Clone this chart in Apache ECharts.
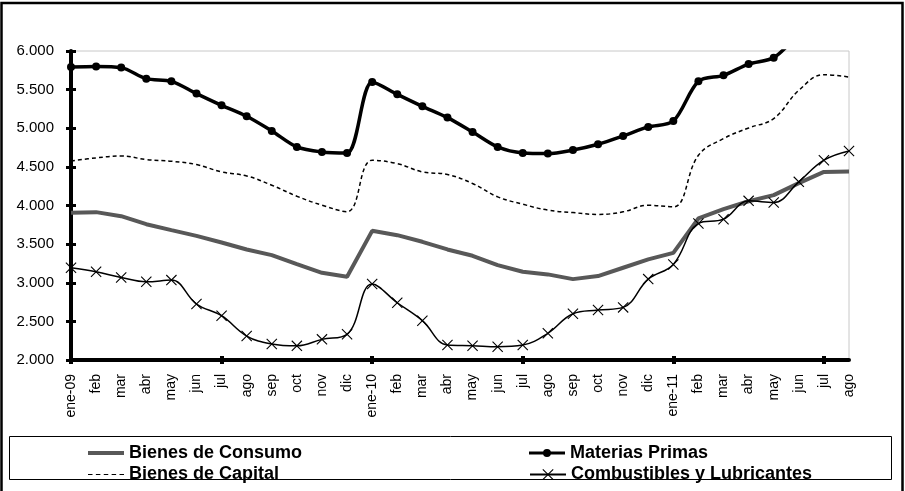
<!DOCTYPE html>
<html>
<head>
<meta charset="utf-8">
<script src="https://cdn.jsdelivr.net/npm/echarts/dist/echarts.min.js"></script>
<style>
  html, body { margin: 0; padding: 0; background: #fff; }
  #chart { width: 905px; height: 491px; }
</style>
</head>
<body>
<div id="chart"></div>
<script>
// meses ene-09 .. ago-11
const categories = ['ene-09', 'feb', 'mar', 'abr', 'may', 'jun', 'jul', 'ago', 'sep', 'oct', 'nov', 'dic',
  'ene-10', 'feb', 'mar', 'abr', 'may', 'jun', 'jul', 'ago', 'sep', 'oct', 'nov', 'dic',
  'ene-11', 'feb', 'mar', 'abr', 'may', 'jun', 'jul', 'ago'];

const bienesConsumo = [3905, 3914, 3862, 3758, 3681, 3607, 3521, 3431, 3358, 3240, 3129, 3077,
  3672, 3616, 3530, 3431, 3349, 3228, 3142, 3108, 3047, 3086, 3194, 3302,
  3387, 3832, 3952, 4055, 4134, 4290, 4435, 4440];

const materiasPrimas = [5792, 5800, 5785, 5642, 5607, 5449, 5297, 5155, 4965, 4758, 4693, 4680,
  5599, 5439, 5284, 5138, 4952, 4758, 4680, 4672, 4718, 4793, 4900, 5017,
  5094, 5607, 5685, 5831, 5914, 6200, 6350, 6400];

const bienesCapital = [4577, 4616, 4641, 4595, 4573, 4530, 4435, 4383, 4263, 4120, 4004, 3920,
  4586, 4543, 4435, 4401, 4285, 4112, 4017, 3940, 3908, 3884, 3918, 4004,
  3982, 4650, 4866, 5004, 5125, 5491, 5694, 5663];

const combustibles = [3194, 3142, 3069, 3013, 3034, 2724, 2573, 2310, 2207, 2183, 2267, 2332,
  2983, 2741, 2509, 2194, 2185, 2172, 2194, 2345, 2598, 2646, 2681, 3047,
  3237, 3767, 3823, 4060, 4040, 4306, 4586, 4706];

const yMin = 2000;
const yMax = 6000;
const yStep = 500;

const font = 'Arial, "Liberation Sans", sans-serif';
const crossPath = 'path://M0,0.7L0.7,0L10,9.3L9.3,10ZM9.3,0L10,0.7L0.7,10L0,9.3Z';
// iconos de leyenda
const barIcon = 'path://M0,0H36V4H0Z';
const dashIcon = 'path://M0,0H4V1H0ZM7,0H11V1H7ZM14,0H18V1H14ZM21,0H25V1H21ZM28,0H32V1H28Z';
const dotLineIcon = 'path://M0,2.5H36V5.5H0ZM18,0A4,4 0 1,1 17.99,0Z';

const fmtMiles = (v) => String(v).replace(/\B(?=(\d{3})+(?!\d))/g, '.');
const majorTick = (idx) => idx % 6 === 0;

const legendText = { fontFamily: font, fontSize: 18, fontWeight: 'bold', color: '#000' };
// una leyenda por serie, para ubicarlas en dos columnas como en el original
const legendAt = (item, left, top) => ({
  data: [item], left: left, top: top, padding: 0,
  itemWidth: 36, itemHeight: 14, itemGap: 5,
  textStyle: legendText
});

const chart = echarts.init(document.getElementById('chart'));

const option = {
  animation: false,
  backgroundColor: '#fff',
  grid: {
    left: 71, top: 51, right: 56, bottom: 131,
    show: true, borderColor: '#c8c8c8', borderWidth: 1,
    outerBoundsMode: 'none'
  },
  legend: [
    legendAt({ name: 'Bienes de Consumo', icon: barIcon }, 88, 444),
    legendAt({ name: 'Materias Primas', icon: dotLineIcon }, 529, 444),
    legendAt({ name: 'Bienes de Capital', icon: dashIcon }, 88, 465.5),
    legendAt({ name: 'Combustibles y Lubricantes' }, 529, 465.5)
  ],
  xAxis: [
    {
      type: 'category',
      data: categories,
      boundaryGap: false,
      position: 'bottom',
      axisLine: { lineStyle: { color: '#000', width: 4 } },
      axisTick: { show: true, interval: majorTick, length: 4, lineStyle: { color: '#000', width: 4 } },
      axisLabel: { interval: 0, rotate: 90, margin: 14, color: '#000', fontFamily: font, fontSize: 14 },
      splitLine: { show: false }
    },
    {
      type: 'category',
      data: categories,
      boundaryGap: false,
      position: 'bottom',
      axisLine: { show: false },
      axisTick: { show: true, inside: true, interval: majorTick, length: 4, lineStyle: { color: '#000', width: 4 } },
      axisLabel: { show: false },
      splitLine: { show: false }
    }
  ],
  yAxis: [
    {
      type: 'value',
      min: yMin, max: yMax, interval: yStep,
      position: 'left',
      axisLine: { show: true, lineStyle: { color: '#000', width: 4 } },
      axisTick: { show: true, length: 5, lineStyle: { color: '#000', width: 3 } },
      axisLabel: { formatter: fmtMiles, margin: 17, color: '#000', fontFamily: font, fontSize: 15 },
      splitLine: { show: false }
    },
    {
      type: 'value',
      min: yMin, max: yMax, interval: yStep,
      position: 'left',
      axisLine: { show: false },
      axisTick: { show: true, inside: true, length: 5, lineStyle: { color: '#000', width: 3 } },
      axisLabel: { show: false },
      splitLine: { show: false }
    }
  ],
  series: [
    {
      name: 'Bienes de Consumo',
      type: 'line',
      data: bienesConsumo,
      symbol: 'none',
      color: '#585858',
      lineStyle: { color: '#585858', width: 4 },
      z: 2
    },
    {
      name: 'Bienes de Capital',
      type: 'line',
      data: bienesCapital,
      symbol: 'none',
      smooth: 0.4,
      color: '#000',
      lineStyle: { color: '#000', width: 1.5, type: [4, 3] },
      z: 3
    },
    {
      name: 'Combustibles y Lubricantes',
      type: 'line',
      data: combustibles,
      smooth: 0.4,
      symbol: crossPath,
      symbolSize: 11,
      color: '#000',
      itemStyle: { color: '#000' },
      lineStyle: { color: '#000', width: 1.5 },
      z: 4
    },
    {
      name: 'Materias Primas',
      type: 'line',
      data: materiasPrimas,
      smooth: 0.3,
      clip: true,
      symbol: 'circle',
      symbolSize: 8,
      color: '#000',
      itemStyle: { color: '#000' },
      lineStyle: { color: '#000', width: 3.5 },
      z: 5
    }
  ],
  graphic: [
    {
      type: 'rect',
      shape: { x: 1.5, y: 3, width: 901, height: 500 },
      style: { fill: 'none', stroke: '#000', lineWidth: 2.5 },
      silent: true
    },
    {
      type: 'rect',
      shape: { x: 9.5, y: 436.5, width: 882, height: 43 },
      style: { fill: 'none', stroke: '#000', lineWidth: 1 },
      silent: true,
      z: -1
    }
  ]
};

chart.setOption(option);
</script>
</body>
</html>
